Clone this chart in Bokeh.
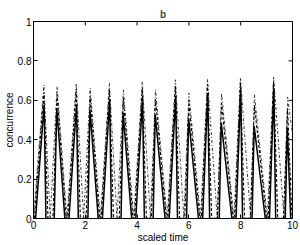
import math
from bokeh.plotting import figure
from bokeh.models import Range1d, FixedTicker, Title
from bokeh.embed import file_html
from bokeh.resources import INLINE

# ---- data ----
# dash-dot curve: zeros, peak times, peak values
dd_zero = [0.0, 0.645, 1.29, 1.935, 2.58, 3.225, 3.87, 4.515, 5.16, 5.805, 6.45, 7.095, 7.74, 8.385, 9.03, 9.675]
dd_peak_t = [0.40, 0.91, 1.65, 2.19, 2.93, 3.47, 4.20, 4.71, 5.48, 6.00, 6.72, 7.26, 7.99, 8.53, 9.27, 9.81]
dd_peak_v = [0.678, 0.670, 0.687, 0.662, 0.687, 0.653, 0.695, 0.653, 0.704, 0.637, 0.707, 0.637, 0.715, 0.628, 0.717, 0.616]
dd_end_t = 10.0
dd_end_v = 0.43

# dashed curve: start of each hump, peak, end of hump
da_start = [0.03, 0.75, 1.32, 2.03, 2.61, 3.31, 3.90, 4.55, 5.19, 5.84, 6.48, 7.10, 7.77, 8.37, 9.06, 9.65]
da_peak_t = [0.40, 0.91, 1.65, 2.19, 2.93, 3.47, 4.20, 4.71, 5.48, 6.00, 6.72, 7.26, 7.99, 8.53, 9.27, 9.81]
da_peak_v = [0.640, 0.630, 0.650, 0.620, 0.655, 0.610, 0.660, 0.605, 0.670, 0.590, 0.680, 0.585, 0.690, 0.575, 0.695, 0.560]
da_end = [0.56, 1.26, 1.81, 2.55, 3.09, 3.84, 4.36, 5.13, 5.64, 6.42, 6.88, 7.71, 8.15, 9.00, 9.43, 9.98]

# solid curve
so_start = [0.08, 0.80, 1.37, 2.10, 2.66, 3.38, 3.95, 4.62, 5.24, 5.91, 6.53, 7.17, 7.82, 8.44, 9.11, 9.72]
so_peak_t = [0.41, 0.90, 1.66, 2.18, 2.94, 3.46, 4.21, 4.70, 5.49, 5.99, 6.73, 7.25, 8.00, 8.52, 9.28, 9.80]
so_peak_v = [0.578, 0.560, 0.578, 0.553, 0.603, 0.536, 0.610, 0.528, 0.620, 0.510, 0.636, 0.486, 0.653, 0.469, 0.660, 0.460]
so_end = [0.48, 1.21, 1.73, 2.50, 3.01, 3.79, 4.28, 5.08, 5.56, 6.37, 6.80, 7.66, 8.07, 8.95, 9.35, 9.93]

x_ticks = [0, 2, 4, 6, 8, 10]
y_ticks = [0, 0.2, 0.4, 0.6, 0.8, 1]
y_tick_labels = {0: "0", 0.2: "0.2", 0.4: "0.4", 0.6: "0.6", 0.8: "0.8", 1: "1"}

# ---- build vertex lists ----
dd_x, dd_y = [], []
for i in range(len(dd_zero)):
    dd_x += [dd_zero[i], dd_peak_t[i]]
    dd_y += [0.0, dd_peak_v[i]]
dd_x.append(dd_end_t)
dd_y.append(dd_end_v)

def humps(st, pt, pv, en):
    xs, ys = [], []
    for a, t, v, b in zip(st, pt, pv, en):
        xs += [a, t, b]
        ys += [0.0, v, 0.0]
    return xs, ys

da_x, da_y = humps(da_start, da_peak_t, da_peak_v, da_end)
so_x, so_y = humps(so_start, so_peak_t, so_peak_v, so_end)

FONT = "Liberation Sans"

p = figure(width=300, height=245, output_backend="svg", toolbar_location=None,
           x_range=Range1d(0, 10), y_range=Range1d(0, 1),
           min_border_left=32, min_border_right=8, min_border_top=21, min_border_bottom=25)
p.title = Title(text="b", text_font=FONT, text_font_size="10px", align="center",
                text_font_style="bold", offset=0, standoff=4)
p.grid.visible = False
p.background_fill_color = "white"
p.border_fill_color = "white"
p.outline_line_color = "black"
p.outline_line_width = 1

p.line(dd_x, dd_y, line_color="#222222", line_width=0.9, line_dash="3 2 1 2")
p.line(da_x, da_y, line_color="black", line_width=1.1, line_dash="3 2")
p.line(so_x, so_y, line_color="black", line_width=1.5)

# mirrored inward ticks on the top and right edges of the box
p.scatter(x=x_ticks, y=[y_ticks[-1]] * len(x_ticks), marker="dash", size=8,
          angle=math.pi / 2, line_color="black", line_width=1)
p.scatter(x=[x_ticks[-1]] * len(y_ticks), y=y_ticks, marker="dash", size=8,
          line_color="black", line_width=1)

for ax, tk in ((p.xaxis[0], x_ticks), (p.yaxis[0], y_ticks)):
    ax.ticker = FixedTicker(ticks=tk)
    ax.major_tick_in = 4
    ax.major_tick_out = 0
    ax.minor_tick_line_color = None
    ax.axis_line_color = "black"
    ax.major_label_text_font = FONT
    ax.major_label_text_font_size = "10px"
    ax.major_label_text_color = "black"
    ax.axis_label_text_font = FONT
    ax.axis_label_text_font_size = "10px"
    ax.axis_label_text_font_style = "normal"
    ax.axis_label_text_color = "black"
p.yaxis[0].major_label_overrides = y_tick_labels
p.xaxis[0].axis_label = "scaled time"
p.yaxis[0].axis_label = "concurrence"
p.xaxis[0].major_label_standoff = 2
p.xaxis[0].axis_label_standoff = 0
p.yaxis[0].major_label_standoff = 2
p.yaxis[0].axis_label_standoff = 0

open("out.html", "w").write(file_html(p, INLINE))
